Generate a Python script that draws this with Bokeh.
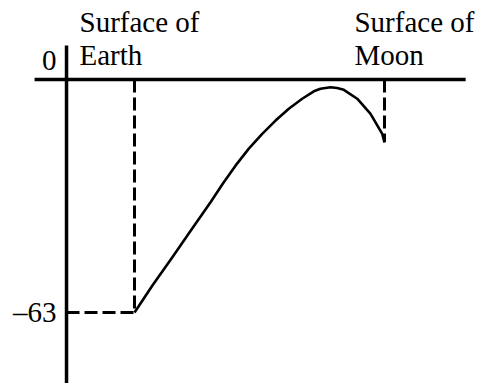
from bokeh.plotting import figure
from bokeh.models import Range1d
from bokeh.core.properties import value
from bokeh.embed import file_html
from bokeh.resources import INLINE

# distance from Earth's centre (Earth radii) and potential energy (MJ/kg)
dist = [1.0, 1.263, 1.554, 1.828, 2.118, 2.300, 2.485, 2.681, 2.878, 3.074,
        3.269, 3.466, 3.637, 3.735, 3.882, 3.980, 4.078, 4.275, 4.471, 4.643,
        4.676]
energy = [-63.0, -55.7, -48.1, -40.8, -33.2, -28.1, -23.3, -18.7, -14.7, -11.1,
          -7.9, -5.2, -3.2, -2.5, -2.1, -2.3, -2.8, -5.2, -9.3, -14.7,
          -17.0]
earth_surface = 1.0
moon_surface = 4.676
tick_values = [0, -63]
tick_labels = ["0", "\u201363"]
label_lines = [["Surface of", "Earth"], ["Surface of", "Moon"]]

W, H = 477, 383
p = figure(width=W, height=H, output_backend="svg", toolbar_location=None,
           x_range=Range1d(-0.971, 6.044), y_range=Range1d(-82.2, 21.36),
           min_border=0)
p.xaxis.visible = False
p.yaxis.visible = False
p.grid.visible = False
p.outline_line_color = None
p.background_fill_color = "white"
p.border_fill_color = "white"

font = value("Liberation Serif")
fs = "29px"

# axes
p.segment(x0=[0, -0.47], y0=[9.2, 0], x1=[0, 5.87], y1=[-84, 0],
          line_color="black", line_width=3.5)

# dashed guides
p.segment(x0=[earth_surface, 0, moon_surface],
          y0=[0, energy[0], 0],
          x1=[earth_surface, earth_surface, moon_surface],
          y1=[energy[0], energy[0], energy[-1]],
          line_color="black", line_width=3, line_dash="13 5")

# curve
p.line(dist, energy, line_color="black", line_width=2.6, line_join="round")

# tick labels
p.text(x=[0], y=[tick_values[0]], text=[tick_labels[0]], text_align="right",
       text_baseline="middle", x_offset=-10, y_offset=-19,
       text_font=font, text_font_size=fs, text_color="black")
p.text(x=[0], y=[tick_values[1]], text=[tick_labels[1]], text_align="right",
       text_baseline="middle", x_offset=-10, y_offset=0,
       text_font=font, text_font_size=fs, text_color="black")

# surface labels
lx = [0.191, 4.235]
for i, lines in enumerate(label_lines):
    p.text(x=[lx[i], lx[i]], y=[15.5, 6.6], text=lines,
           text_align="left", text_baseline="middle",
           text_font=font, text_font_size=fs, text_color="black")

open("out.html", "w").write(file_html(p, INLINE))
